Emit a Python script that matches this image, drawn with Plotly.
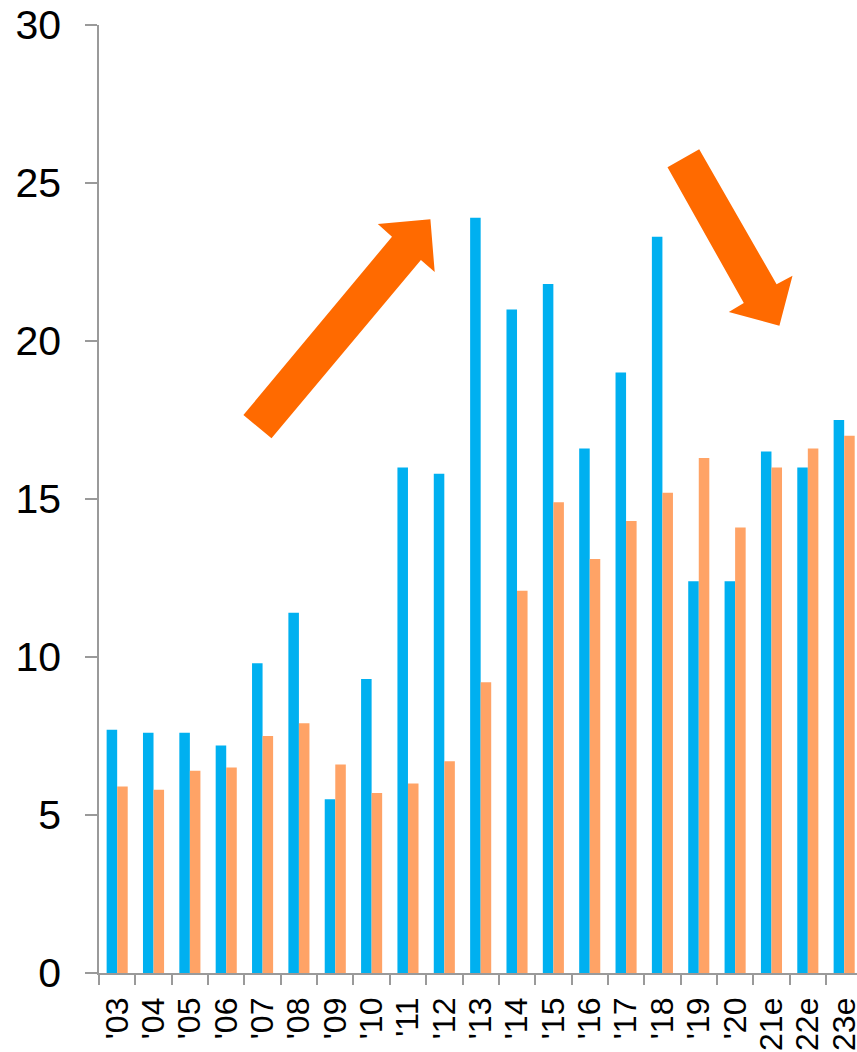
import plotly.graph_objects as go

# Year labels along the category axis
years = ["'03", "'04", "'05", "'06", "'07", "'08", "'09", "'10", "'11", "'12",
         "'13", "'14", "'15", "'16", "'17", "'18", "'19", "'20", "'21e", "'22e", "'23e"]

# Two series per year
series_blue = [7.7, 7.6, 7.6, 7.2, 9.8, 11.4, 5.5, 9.3, 16.0, 15.8,
               23.9, 21.0, 21.8, 16.6, 19.0, 23.3, 12.4, 12.4, 16.5, 16.0, 17.5]
series_orange = [5.9, 5.8, 6.4, 6.5, 7.5, 7.9, 6.6, 5.7, 6.0, 6.7,
                 9.2, 12.1, 14.9, 13.1, 14.3, 15.2, 16.3, 14.1, 16.0, 16.6, 17.0]

y_ticks = [0, 5, 10, 15, 20, 25, 30]

W, H = 857, 1052
L, T, B = 99, 25, 79
PLOT_W = W - L
PLOT_H = H - T - B

BLUE = "#00B0F0"
LIGHT_ORANGE = "#FFA366"
ARROW = "#FF6A00"
AXIS_GREY = "#9A9A9A"
FONT = "Liberation Sans, Arial, sans-serif"


def to_paper(pts):
    """Convert pixel positions on the page into paper coordinates."""
    return [((x - L) / PLOT_W, (H - B - y) / PLOT_H) for x, y in pts]


def path_of(pts):
    p = to_paper(pts)
    return "M " + " L ".join(f"{x:.5f},{y:.5f}" for x, y in p) + " Z"


# Decorative trend arrows (outline vertices in page pixels)
arrow_up = [(243.4, 415.0), (271.5, 438.3), (420.9, 260.0), (434.7, 272.0),
            (430.4, 219.3), (377.8, 224.0), (392.0, 236.7)]
arrow_down = [(699.2, 149.3), (667.5, 167.3), (743.8, 303.0), (728.8, 312.0),
              (779.4, 325.7), (792.5, 275.7), (776.6, 284.3)]

fig = go.Figure()
fig.add_trace(go.Bar(x=years, y=series_blue, marker=dict(color=BLUE, line=dict(width=0)),
                     showlegend=False))
fig.add_trace(go.Bar(x=years, y=series_orange, marker=dict(color=LIGHT_ORANGE, line=dict(width=0)),
                     showlegend=False))

for pts in (arrow_up, arrow_down):
    fig.add_shape(type="path", path=path_of(pts), xref="paper", yref="paper",
                  fillcolor=ARROW, line=dict(width=0), layer="above")

fig.update_layout(
    width=W, height=H,
    margin=dict(l=L, r=0, t=T, b=B, pad=0),
    paper_bgcolor="white", plot_bgcolor="white",
    barmode="group", bargap=0.42, bargroupgap=0,
    font=dict(family=FONT, color="black"),
    showlegend=False,
)

fig.update_xaxes(
    type="category", range=[-0.5, 20.353], automargin=False,
    tickmode="array", tickvals=years, ticktext=years,
    showline=True, linecolor=AXIS_GREY, linewidth=1.5,
    ticks="outside", tickson="boundaries", ticklen=10, tickcolor=AXIS_GREY, tickwidth=1.5,
    tickangle=-90, ticklabelstandoff=10,
    tickfont=dict(size=32, family=FONT, color="black"),
    showgrid=False, zeroline=False,
)
fig.update_yaxes(
    range=[0, 30], tickvals=y_ticks, automargin=False,
    showline=True, linecolor=AXIS_GREY, linewidth=1.5,
    ticks="outside", ticklen=12, tickcolor=AXIS_GREY, tickwidth=1.5,
    ticklabelstandoff=16,
    tickfont=dict(size=41, family=FONT, color="black"),
    showgrid=False, zeroline=False,
)

fig.write_html("out.html")
